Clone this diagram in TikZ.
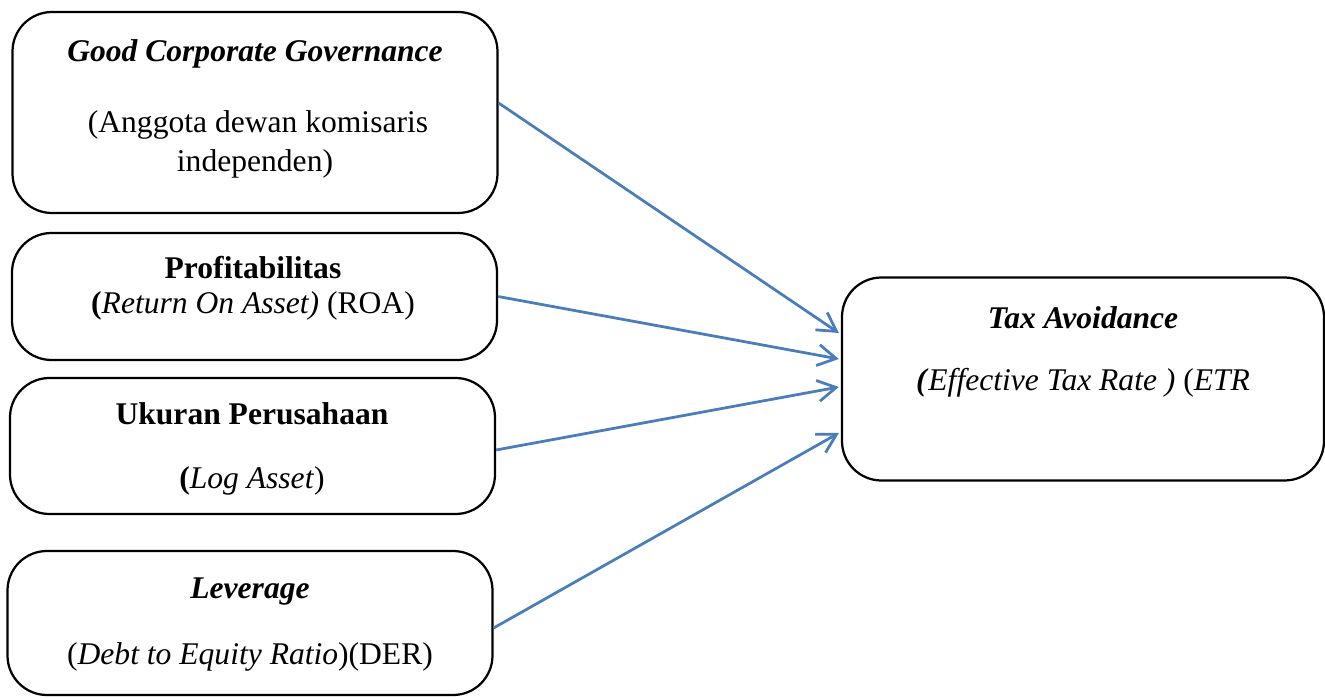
\documentclass[tikz,border=0pt]{standalone}
\usepackage{fontspec}
\setmainfont{Liberation Serif}
\usetikzlibrary{arrows.meta,calc}
\definecolor{arrblue}{HTML}{4A7EBB}
\begin{document}
\begin{tikzpicture}[x=0.38pt,y=-0.38pt,
  box/.style={draw=black,line width=0.85pt,rounded corners=15pt,inner sep=0pt},
  txt/.style={anchor=base,inner sep=0pt,font=\fontsize{12}{14}\selectfont},
  arr/.style={draw=arrblue,line width=1.05pt,
    -{Straight Barb[length=7pt,width=8pt,line width=1.05pt]}}]
\useasboundingbox (0,0) rectangle (1325,698);
% boxes
\node[box,minimum width=485*0.38pt,minimum height=201*0.38pt] (gcg) at (255,112.5) {};
\node[box,minimum width=485*0.38pt,minimum height=127*0.38pt] (roa) at (254.5,296.5) {};
\node[box,minimum width=485*0.38pt,minimum height=136*0.38pt] (size) at (252.5,446) {};
\node[box,minimum width=485*0.38pt,minimum height=144*0.38pt] (lev) at (250,623) {};
\node[box,minimum width=482*0.38pt,minimum height=203*0.38pt] (tax) at (1083,379) {};
% texts
\node[txt] (t1a) at (255,62) {\textbf{\textit{Good Corporate Governance}}};
\node[txt] (t1b) at (258,133) {(Anggota dewan komisaris};
\node[txt] (t1c) at (255,172) {independen)};
\node[txt] (t2a) at (253,279) {\textbf{Profitabilitas}};
\node[txt] (t2b) at (253,314) {\textbf{(}\textit{Return On Asset)} (ROA)};
\node[txt] (t3a) at (252,425) {\textbf{Ukuran Perusahaan}};
\node[txt] (t3b) at (252,489) {\textbf{(}\textit{Log Asset})};
\node[txt] (t4a) at (250,599) {\textbf{\textit{Leverage}}};
\node[txt] (t4b) at (250,665) {(\textit{Debt to Equity Ratio})(DER)};
\node[txt] (t5a) at (1083,329) {\textbf{\textit{Tax Avoidance}}};
\node[txt] (t5b) at (1083,391) {\textbf{\textit{(}}\textit{Effective Tax Rate )} (\textit{ETR}};
% connectors
\draw[arr] ($(gcg.east)+(0,-9.5)$) -- ($(tax.west)+(-2,-46)$);
\draw[arr] (roa.east) -- ($(tax.west)+(-2,-20)$);
\draw[arr] ($(size.east)+(0,4)$) -- ($(tax.west)+(-2,8)$);
\draw[arr] ($(lev.east)+(0,5)$) -- ($(tax.west)+(-2,54)$);
\end{tikzpicture}
\end{document}
